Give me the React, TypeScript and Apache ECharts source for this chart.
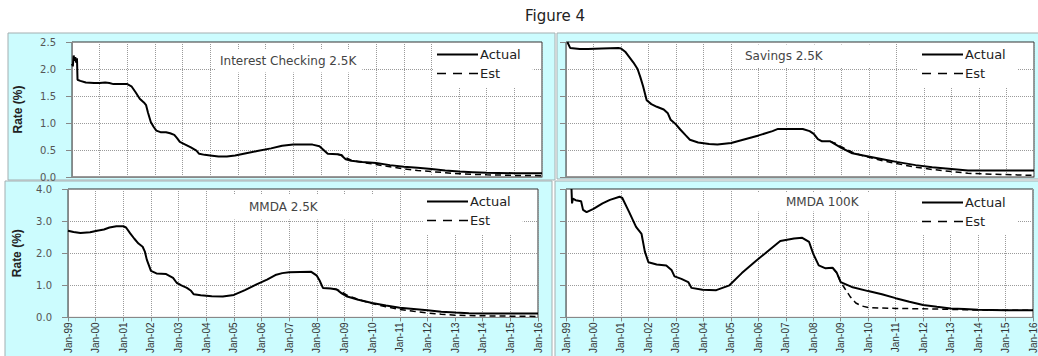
import React, { useEffect, useRef } from 'react';
import * as echarts from 'echarts';

// ---- Interest Checking 2.5K ----
const icActualX = [1999.0, 1999.03, 1999.06, 1999.09, 1999.12, 1999.15, 1999.18, 1999.2, 1999.3, 1999.5, 1999.8, 2000.0, 2000.2, 2000.35, 2000.5, 2000.8, 2001.0, 2001.15, 2001.3, 2001.45, 2001.6, 2001.68, 2001.75, 2001.85, 2001.95, 2002.05, 2002.2, 2002.4, 2002.55, 2002.7, 2002.8, 2002.9, 2003.1, 2003.3, 2003.5, 2003.6, 2003.8, 2004.0, 2004.3, 2004.6, 2004.9, 2005.3, 2005.7, 2006.2, 2006.6, 2007.0, 2007.7, 2007.95, 2008.1, 2008.25, 2008.6, 2008.75, 2008.9, 2009.1, 2009.5, 2010.0, 2010.5, 2011.0, 2011.5, 2012.0, 2012.5, 2013.0, 2013.5, 2014.0, 2015.0, 2016.0];
const icActualY = [2.10, 2.05, 2.25, 2.15, 2.22, 2.12, 2.20, 1.80, 1.78, 1.75, 1.74, 1.74, 1.75, 1.74, 1.72, 1.72, 1.72, 1.68, 1.57, 1.45, 1.38, 1.33, 1.19, 1.02, 0.93, 0.86, 0.83, 0.83, 0.81, 0.78, 0.72, 0.65, 0.60, 0.55, 0.49, 0.43, 0.41, 0.40, 0.38, 0.38, 0.40, 0.44, 0.48, 0.53, 0.58, 0.60, 0.60, 0.57, 0.50, 0.43, 0.42, 0.40, 0.33, 0.30, 0.28, 0.26, 0.22, 0.19, 0.17, 0.15, 0.12, 0.10, 0.09, 0.08, 0.07, 0.07];
const icEstX = [2008.6, 2008.75, 2008.9, 2009.1, 2009.5, 2010.0, 2010.5, 2011.0, 2011.5, 2012.0, 2012.5, 2013.0, 2013.5, 2014.0, 2015.0, 2016.0];
const icEstY = [0.42, 0.41, 0.36, 0.31, 0.27, 0.23, 0.19, 0.15, 0.12, 0.10, 0.08, 0.06, 0.05, 0.04, 0.03, 0.025];

// ---- Savings 2.5K ----
const svActualX = [1999.05, 1999.15, 1999.5, 1999.8, 2000.3, 2000.9, 2001.0, 2001.15, 2001.3, 2001.45, 2001.6, 2001.7, 2001.8, 2001.93, 2002.1, 2002.3, 2002.55, 2002.7, 2002.8, 2003.0, 2003.15, 2003.35, 2003.5, 2003.8, 2004.2, 2004.5, 2005.0, 2005.5, 2006.0, 2006.5, 2006.7, 2007.6, 2007.85, 2008.0, 2008.15, 2008.3, 2008.6, 2008.8, 2009.0, 2009.4, 2009.8, 2010.5, 2011.0, 2011.7, 2012.3, 2013.0, 2013.6, 2014.5, 2016.0];
const svActualY = [2.50, 2.39, 2.37, 2.37, 2.38, 2.39, 2.38, 2.32, 2.22, 2.12, 2.00, 1.85, 1.68, 1.42, 1.35, 1.30, 1.25, 1.18, 1.06, 0.97, 0.88, 0.77, 0.69, 0.64, 0.61, 0.60, 0.63, 0.70, 0.77, 0.85, 0.89, 0.89, 0.85, 0.80, 0.70, 0.66, 0.66, 0.60, 0.54, 0.44, 0.40, 0.33, 0.28, 0.22, 0.18, 0.15, 0.12, 0.12, 0.12];
const svEstX = [2008.6, 2008.8, 2009.0, 2009.4, 2009.8, 2010.5, 2011.0, 2011.7, 2012.3, 2013.0, 2013.6, 2014.5, 2015.3, 2016.0];
const svEstY = [0.66, 0.62, 0.56, 0.46, 0.39, 0.30, 0.25, 0.18, 0.14, 0.10, 0.07, 0.05, 0.04, 0.03];

// ---- MMDA 2.5K ----
const m25ActualX = [1999.0, 1999.2, 1999.45, 1999.8, 2000.05, 2000.3, 2000.5, 2000.75, 2001.0, 2001.1, 2001.25, 2001.4, 2001.55, 2001.7, 2001.78, 2001.85, 2002.0, 2002.2, 2002.55, 2002.8, 2002.93, 2003.1, 2003.3, 2003.45, 2003.55, 2003.8, 2004.2, 2004.6, 2005.0, 2005.4, 2005.8, 2006.2, 2006.5, 2006.75, 2007.0, 2007.8, 2008.0, 2008.1, 2008.22, 2008.5, 2008.72, 2008.9, 2009.1, 2009.5, 2010.0, 2010.5, 2011.0, 2011.5, 2012.0, 2012.5, 2013.0, 2013.5, 2014.0, 2016.0];
const m25ActualY = [2.70, 2.66, 2.63, 2.65, 2.70, 2.74, 2.80, 2.84, 2.84, 2.80, 2.62, 2.45, 2.30, 2.20, 2.05, 1.80, 1.45, 1.37, 1.35, 1.23, 1.08, 1.00, 0.92, 0.83, 0.72, 0.69, 0.66, 0.65, 0.70, 0.85, 1.02, 1.18, 1.32, 1.38, 1.41, 1.42, 1.30, 1.15, 0.92, 0.90, 0.87, 0.75, 0.65, 0.55, 0.45, 0.37, 0.30, 0.26, 0.22, 0.18, 0.15, 0.13, 0.12, 0.12];
const m25EstX = [2008.6, 2008.75, 2008.9, 2009.1, 2009.5, 2010.0, 2010.5, 2011.0, 2011.5, 2012.0, 2012.5, 2013.0, 2013.5, 2014.0, 2015.0, 2016.0];
const m25EstY = [0.89, 0.86, 0.80, 0.69, 0.56, 0.43, 0.33, 0.25, 0.19, 0.14, 0.10, 0.07, 0.06, 0.05, 0.04, 0.03];

// ---- MMDA 100K ----
const m100ActualX = [1999.2, 1999.22, 1999.25, 1999.35, 1999.55, 1999.62, 1999.75, 2000.0, 2000.33, 2000.6, 2000.95, 2001.05, 2001.3, 2001.55, 2001.75, 2001.87, 2002.0, 2002.3, 2002.65, 2002.84, 2002.95, 2003.2, 2003.45, 2003.57, 2003.97, 2004.47, 2004.95, 2005.4, 2005.9, 2006.4, 2006.8, 2007.3, 2007.6, 2007.85, 2008.0, 2008.2, 2008.45, 2008.7, 2008.85, 2009.0, 2009.4, 2010.0, 2010.5, 2011.0, 2011.5, 2012.0, 2012.5, 2013.0, 2013.5, 2014.0, 2015.0, 2016.0];
const m100ActualY = [4.00, 3.55, 3.70, 3.65, 3.62, 3.35, 3.28, 3.38, 3.55, 3.66, 3.76, 3.72, 3.28, 2.82, 2.60, 2.05, 1.72, 1.65, 1.62, 1.48, 1.28, 1.20, 1.10, 0.92, 0.86, 0.85, 1.00, 1.38, 1.75, 2.10, 2.38, 2.46, 2.48, 2.35, 1.98, 1.62, 1.53, 1.55, 1.40, 1.10, 0.95, 0.82, 0.72, 0.60, 0.49, 0.39, 0.33, 0.28, 0.26, 0.24, 0.22, 0.22];
const m100EstX = [2008.7, 2008.85, 2009.0, 2009.15, 2009.35, 2009.55, 2009.75, 2010.0, 2010.5, 2011.0, 2012.0, 2013.0, 2014.0, 2015.0, 2016.0];
const m100EstY = [1.55, 1.40, 1.10, 0.90, 0.64, 0.45, 0.36, 0.31, 0.29, 0.28, 0.27, 0.25, 0.23, 0.22, 0.22];

const panelTitles = ['Interest Checking 2.5K', 'Savings 2.5K', 'MMDA 2.5K', 'MMDA 100K'];
const seriesNames = ['Actual', 'Est'];
const yMaxes = [2.5, 2.5, 4, 4];
const yIntervals = [0.5, 0.5, 1, 1];
const yearMin = 1999;
const yearMax = 2016;

const zip = (xs: number[], ys: number[]) => xs.map((x, i) => [x, ys[i]]);

const ICON_SOLID = 'path://M0,0H41V2H0Z';
const ICON_DASH = 'path://M0,0H9V1.6H0Z M16,0H25V1.6H16Z M32,0H41V1.6H32Z';

export default function App() {
  const ref = useRef<HTMLDivElement>(null);
  useEffect(() => {
    const chart = echarts.init(ref.current!, null, { renderer: 'svg' });
    const actuals = [zip(icActualX, icActualY), zip(svActualX, svActualY), zip(m25ActualX, m25ActualY), zip(m100ActualX, m100ActualY)];
    const ests = [zip(icEstX, icEstY), zip(svEstX, svEstY), zip(m25EstX, m25EstY), zip(m100EstX, m100EstY)];

    const grids = [
      { left: 72, top: 42, width: 470, height: 135 },
      { left: 566, top: 42, width: 468, height: 135 },
      { left: 68, top: 189, width: 470, height: 136 },
      { left: 566, top: 189, width: 469, height: 136 },
    ];
    const legendPos = [
      { left: 433, top: 43 },
      { left: 918, top: 43 },
      { left: 423, top: 190 },
      { left: 918, top: 191 },
    ];
    const labelPos = [
      { x: 216, y: 61, padding: [6, 6, 5, 4] },
      { x: 743, y: 56, padding: [5, 60, 6, 2] },
      { x: 225, y: 207, padding: [10, 76, 3, 24] },
      { x: 752, y: 202, padding: [5, 16, 2, 34] },
    ];
    const panelRects = [
      { x: 8, y: 33, width: 547, height: 147 },
      { x: 557, y: 33, width: 485, height: 146 },
      { x: 5, y: 181, width: 547, height: 180 },
      { x: 555, y: 181, width: 487, height: 180 },
    ];

    const graphic: any[] = [];
    panelRects.forEach((r, i) => {
      graphic.push({
        type: 'rect', silent: true, z: -10 + i,
        shape: r,
        style: { fill: '#ccfcfe', stroke: '#a3aeb0', lineWidth: 1 },
      });
    });
    graphic.push({
      type: 'text', silent: true, z: 10, x: 555, y: 16,
      style: { text: 'Figure 4', align: 'center', verticalAlign: 'middle', fill: '#222', font: '15px "DejaVu Sans", sans-serif' },
    });
    panelTitles.forEach((t, i) => {
      const p = labelPos[i];
      graphic.push({
        type: 'text', silent: true, z: 10, x: p.x, y: p.y,
        style: {
          text: t, align: 'left', verticalAlign: 'middle', fill: '#444',
          font: '12px "DejaVu Sans", sans-serif',
          backgroundColor: '#ffffff', padding: p.padding,
        },
      });
    });

    const xAxis = grids.map((_, i) => ({
      type: 'value', gridIndex: i, min: yearMin, max: yearMax, interval: 1,
      axisLine: { show: true, lineStyle: { color: '#888', width: 1 } },
      axisTick: { show: i >= 2, length: 4, lineStyle: { color: '#888' } },
      axisLabel: {
        show: i >= 2, rotate: 90, margin: 5, fontSize: 10, color: '#333',
        fontFamily: '"Liberation Sans Narrow", "Liberation Sans", sans-serif',
        formatter: (v: number) => 'Jan-' + String(Math.round(v) % 100).padStart(2, '0'),
      },
      splitLine: { show: true, lineStyle: { type: 'dotted', color: '#9a9a9a', width: 1 } },
    }));

    const yAxis = grids.map((_, i) => ({
      type: 'value', gridIndex: i, min: 0, max: yMaxes[i], interval: yIntervals[i],
      name: i % 2 === 0 ? 'Rate (%)' : '',
      nameLocation: 'middle', nameGap: i === 0 ? 48 : 45, nameRotate: 90,
      nameTextStyle: { fontSize: 12, fontWeight: 'bold', color: '#222', fontFamily: '"Liberation Sans Narrow", "Liberation Sans", sans-serif' },
      axisLine: { show: true, lineStyle: { color: '#888', width: 1 } },
      axisTick: { show: true, length: 6, lineStyle: { color: '#888' } },
      axisLabel: {
        show: i % 2 === 0, margin: 16, fontSize: 10, color: '#555',
        fontFamily: '"DejaVu Sans", sans-serif',
        formatter: (v: number) => v.toFixed(1),
      },
      splitLine: { show: true, lineStyle: { type: 'dotted', color: '#9a9a9a', width: 1 } },
    }));

    const series: any[] = [];
    grids.forEach((_, i) => {
      series.push({
        name: seriesNames[0], type: 'line', xAxisIndex: i, yAxisIndex: i,
        data: actuals[i], symbol: 'none', showSymbol: false,
        lineStyle: { color: '#000', width: 2 }, itemStyle: { color: '#000' }, z: 3,
      });
      series.push({
        name: seriesNames[1], type: 'line', xAxisIndex: i, yAxisIndex: i,
        data: ests[i], symbol: 'none', showSymbol: false,
        lineStyle: { color: '#000', width: 1.5, type: [6, 4] }, itemStyle: { color: '#000' }, z: 4,
      });
    });

    const legend = legendPos.map((p) => ({
      data: [
        { name: seriesNames[0], icon: ICON_SOLID },
        { name: seriesNames[1], icon: ICON_DASH },
      ],
      left: p.left, top: p.top, orient: 'vertical',
      itemWidth: 41, itemHeight: 12, itemGap: 6,
      symbolKeepAspect: true,
      backgroundColor: '#ffffff', padding: [5, 12, 7, 4],
      selectedMode: false,
      itemStyle: { color: '#000', borderWidth: 0 },
      lineStyle: { width: 0 },
      textStyle: { fontSize: 13, color: '#222', fontFamily: '"DejaVu Sans", sans-serif', padding: [0, 0, 0, -3] },
    }));

    chart.setOption({
      animation: false,
      backgroundColor: '#ffffff',
      grid: grids.map((g) => ({ ...g, show: true, backgroundColor: '#ffffff', borderColor: '#333', borderWidth: 1 })),
      xAxis, yAxis, series, legend, graphic,
    });
    return () => chart.dispose();
  }, []);
  return <div ref={ref} style={{ position: 'absolute', left: 0, top: 0, width: 1038, height: 356 }} />;
}
